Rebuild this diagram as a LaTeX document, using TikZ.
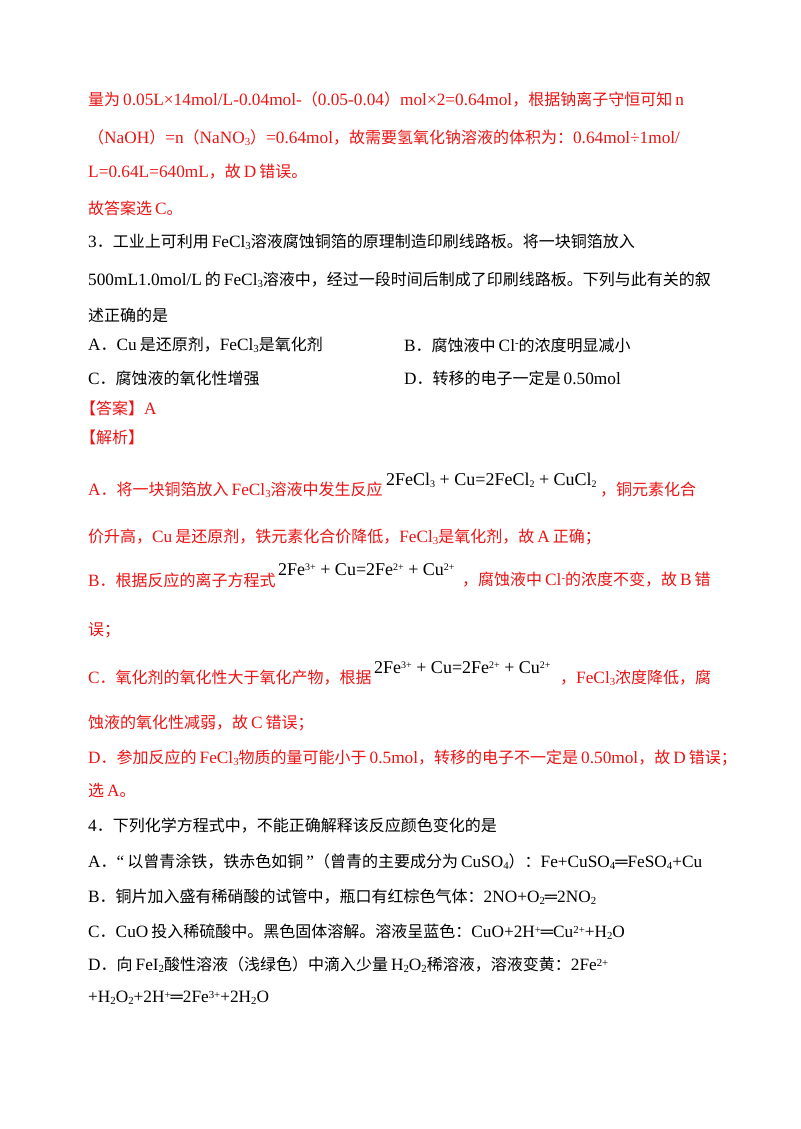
\documentclass[tikz,border=0pt]{standalone}
\usepackage{fontspec}
\setmainfont{Liberation Serif}[Scale=1.08]
\newfontfamily\cjk{Noto Sans CJK SC}
\newfontfamily\eqf{Liberation Serif}
\XeTeXinterchartokenstate=1
\newXeTeXintercharclass\CJKcls
\newXeTeXintercharclass\PNcls
\count255="4E00 \loop \XeTeXcharclass\count255=\CJKcls \ifnum\count255<"9FFF \advance\count255 1 \repeat
\count255="3000 \loop \XeTeXcharclass\count255=\PNcls \ifnum\count255<"303F \advance\count255 1 \repeat
\count255="FF00 \loop \XeTeXcharclass\count255=\PNcls \ifnum\count255<"FF60 \advance\count255 1 \repeat
\XeTeXinterchartoks 0 \CJKcls = {\hskip3pt\cjk}
\XeTeXinterchartoks 4095 \CJKcls = {\cjk}
\XeTeXinterchartoks \CJKcls 0 = {\rmfamily\hskip3pt}
\XeTeXinterchartoks \CJKcls 4095 = {\rmfamily}
\XeTeXinterchartoks 0 \PNcls = {\cjk}
\XeTeXinterchartoks 4095 \PNcls = {\cjk}
\XeTeXinterchartoks \PNcls 0 = {\rmfamily}
\XeTeXinterchartoks \PNcls 4095 = {\rmfamily}
\newcommand\dn[1]{\raisebox{-0.25ex}{\fontsize{10}{10}\selectfont #1}}
\newcommand\up[1]{\raisebox{0.6ex}{\fontsize{10}{10}\selectfont #1}}
\definecolor{red1}{RGB}{235,20,20}
\tikzset{t/.style={anchor=west,inner sep=0pt,font=\fontsize{16}{18}\selectfont},
 r/.style={t,text=red1}, eq/.style={anchor=west,inner sep=0pt,font=\fontsize{18}{20}\eqf}}
\begin{document}
\begin{tikzpicture}[x=1pt,y=-1pt]
\useasboundingbox[fill=white] (0,0) rectangle (800,1129);
\node[r] (l1) at (88,100) {量为0.05L×14mol/L-0.04mol-（0.05-0.04）mol×2=0.64mol，根据钠离子守恒可知n};
\node[r] (l2) at (88,138) {（NaOH）=n（NaNO\dn{3}）=0.64mol，故需要氢氧化钠溶液的体积为：0.64mol÷1mol/};
\node[r] (l3) at (88,172) {L=0.64L=640mL，故D错误。};
\node[r] (l4) at (88,208) {故答案选C。};
\node[t] (q3a) at (88,242) {3．工业上可利用FeCl\dn{3}溶液腐蚀铜箔的原理制造印刷线路板。将一块铜箔放入};
\node[t] (q3b) at (88,280) {500mL1.0mol/L的FeCl\dn{3}溶液中，经过一段时间后制成了印刷线路板。下列与此有关的叙};
\node[t] (q3c) at (88,315) {述正确的是};
\node[t] (oA) at (88,345) {A．Cu是还原剂，FeCl\dn{3}是氧化剂};
\node[t] (oB) at (404,345) {B．腐蚀液中Cl\up{-}的浓度明显减小};
\node[t] (oC) at (88,378) {C．腐蚀液的氧化性增强};
\node[t] (oD) at (404,378) {D．转移的电子一定是0.50mol};
\node[r] (ans) at (80,408) {【答案】A};
\node[r] (jx) at (80,437) {【解析】};
\node[r] (a1) at (88,490) {A．将一块铜箔放入FeCl\dn{3}溶液中发生反应};
\node[eq] (e1) at (386,480) {2FeCl\dn{3} + Cu=2FeCl\dn{2} + CuCl\dn{2}};
\node[r] (a1b) at (600,490) {，铜元素化合};
\node[r] (a2) at (88,537) {价升高，Cu是还原剂，铁元素化合价降低，FeCl\dn{3}是氧化剂，故A正确；};
\node[r] (b1) at (88,580) {B．根据反应的离子方程式};
\node[eq] (e2) at (278,570) {2Fe\up{3+} + Cu=2Fe\up{2+} + Cu\up{2+}};
\node[r] (b1b) at (462,580) {，腐蚀液中Cl\up{-}的浓度不变，故B错};
\node[r] (b2) at (88,630) {误；};
\node[r] (c1) at (88,678) {C．氧化剂的氧化性大于氧化产物，根据};
\node[eq] (e3) at (374,668) {2Fe\up{3+} + Cu=2Fe\up{2+} + Cu\up{2+}};
\node[r] (c1b) at (560,678) {，FeCl\dn{3}浓度降低，腐};
\node[r] (c2) at (88,723) {蚀液的氧化性减弱，故C错误；};
\node[r] (d1) at (88,758) {D．参加反应的FeCl\dn{3}物质的量可能小于0.5mol，转移的电子不一定是0.50mol，故D错误；};
\node[r] (d2) at (88,790) {选A。};
\node[t] (q4) at (88,826) {4．下列化学方程式中，不能正确解释该反应颜色变化的是};
\node[t] (q4A) at (88,862) {A．“以曾青涂铁，铁赤色如铜”（曾青的主要成分为CuSO\dn{4}）：Fe+CuSO\dn{4}═FeSO\dn{4}+Cu};
\node[t] (q4B) at (88,897) {B．铜片加入盛有稀硝酸的试管中，瓶口有红棕色气体：2NO+O\dn{2}═2NO\dn{2}};
\node[t] (q4C) at (88,932) {C．CuO投入稀硫酸中。黑色固体溶解。溶液呈蓝色：CuO+2H\up{+}═Cu\up{2+}+H\dn{2}O};
\node[t] (q4D) at (88,965) {D．向FeI\dn{2}酸性溶液（浅绿色）中滴入少量H\dn{2}O\dn{2}稀溶液，溶液变黄：2Fe\up{2+}};
\node[t] (q4E) at (88,998) {+H\dn{2}O\dn{2}+2H\up{+}═2Fe\up{3+}+2H\dn{2}O};
\end{tikzpicture}
\end{document}
